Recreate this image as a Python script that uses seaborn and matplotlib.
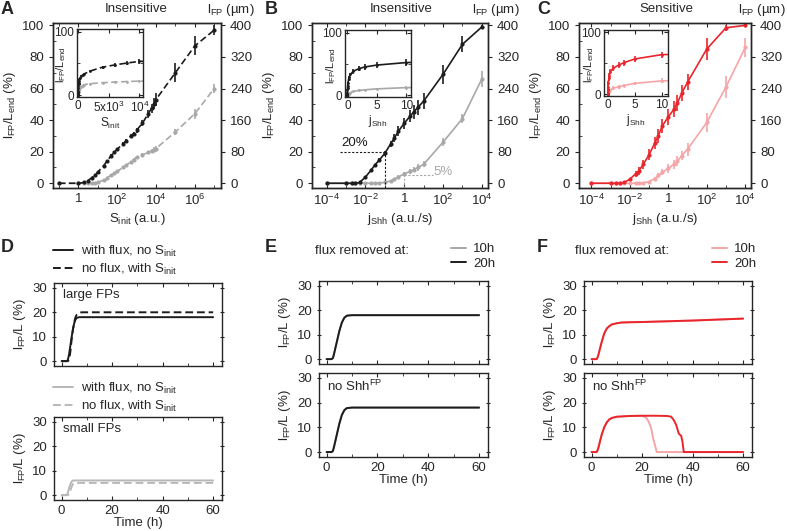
import numpy as np
import matplotlib
matplotlib.use('Agg')
import matplotlib.pyplot as plt
import seaborn as sns
from matplotlib.ticker import FixedLocator, NullFormatter

# ----- Data -----

# A: floor plate size vs initial Shh (S_init)
s_init = [0.1, 1, 2, 3, 5, 7, 10, 20, 30, 50, 70, 100, 200, 300, 500, 700,
          1000, 2000, 4000, 6000, 8000, 1e4, 1e5, 1e6, 1e7]
a_black = [0, 0, 0.5, 1.5, 3.5, 5, 7, 11, 14, 17.5, 19.5, 21.5, 25, 27, 30, 31.5,
           33.5, 38, 44, 47.5, 50.5, 53, 70, 87, 97]
a_black_err = [0.5, 0.5, 0.5, 0.5, 0.5, 0.5, 0.8, 0.8, 1, 1, 1, 1, 1, 1, 1.2, 1.2,
               1.5, 2, 2.5, 3, 3.5, 4, 6, 6, 3]
a_gray = [0, 0, 0, 0, 0, 0.2, 0.5, 2, 3.5, 5, 6.5, 7.5, 10, 11.5, 13.5, 15,
          16.5, 18, 19.5, 20.5, 21.3, 22, 32.5, 44, 60]
a_gray_err = [0.3, 0.3, 0.3, 0.3, 0.3, 0.3, 0.3, 0.5, 0.5, 0.5, 0.5, 0.5, 0.8, 0.8, 0.8, 0.8,
              1, 1, 1.2, 1.2, 1.5, 1.5, 2, 3, 3]

# B, C: floor plate size vs Shh flux (j_Shh)
j_shh = [1e-4, 1e-3, 2e-3, 3e-3, 5e-3, 0.01, 0.02, 0.03, 0.05, 0.1, 0.2, 0.3, 0.5,
         1, 2, 3, 5, 10, 100, 1000, 1e4]
b_black = [0, 0, 0, 0, 0.5, 4, 8.5, 11.5, 14.5, 19, 25, 28.5, 33,
           38, 42.5, 45, 48, 52, 69, 88, 99]
b_black_err = [0.3, 0.3, 0.3, 0.3, 0.3, 0.5, 0.8, 1, 1.2, 1.5, 2, 2.5, 3,
               3.5, 4, 4.5, 4.5, 5, 6, 5, 1]
b_gray = [0, 0, 0, 0, 0, 0, 0, 0, 0.2, 0.5, 1.5, 2.5, 4,
          6, 7.5, 8.5, 10, 12, 26, 41, 66]
b_gray_err = [0.2, 0.2, 0.2, 0.2, 0.2, 0.2, 0.2, 0.2, 0.3, 0.5, 0.8, 1, 1,
              1.2, 1.5, 1.5, 2, 2, 2.5, 3, 5]
c_red = [0, 0, 0, 0, 0.5, 2.5, 6, 8, 12, 18, 25.5, 30, 36.5,
         42, 47, 51, 57, 64, 85, 98.5, 100]
c_red_err = [0.3, 0.3, 0.3, 0.3, 0.5, 1, 2, 2.5, 3, 3.5, 4, 4.5, 4.5,
             5, 5, 5, 5, 5, 7, 2, 1]
c_pink = [0, 0, 0, 0, 0, 0, 0, 0, 0.3, 1, 3, 5, 7,
          9.5, 12, 14, 17.5, 21.5, 38.5, 61, 86]
c_pink_err = [0.2, 0.2, 0.2, 0.2, 0.2, 0.2, 0.2, 0.2, 0.3, 0.5, 1, 1.5, 2,
              3, 3, 3, 3, 4, 6, 7, 6]

# D: time courses, large and small floor plates
t_d = [0, 1, 2, 2.5, 3, 3.5, 4, 4.5, 5, 5.5, 6, 7, 8, 10, 20, 40, 60]
d_large_flux = [0, 0, 0, 0.5, 3, 6.5, 10, 13, 15.5, 17, 17.7, 18, 18, 18, 18, 18, 18]
d_large_noflux = [0, 0, 0, 0, 0.5, 4, 9, 13, 16, 18, 19, 19.8, 20, 20, 20, 20, 20]
d_small_flux = [0, 0, 0, 1, 3, 4.5, 5.5, 6, 6, 6, 6, 6, 6, 6, 6, 6, 6]
d_small_noflux = [0, 0, 0, 0, 0.5, 2, 3.5, 4.5, 5, 5, 5, 5, 5, 5, 5, 5, 5]

# E: insensitive, flux removed at 10h / 20h
t_e = [0, 1, 2, 2.5, 3, 4, 5, 6, 7, 8, 10, 20, 40, 60]
e_top = [0, 0, 0, 0.5, 2.5, 7, 11.5, 15, 17, 17.8, 18, 18, 18, 18]
e_bottom = [0, 0, 0, 0.5, 2.5, 7, 11.5, 15, 17, 17.8, 18, 18, 18, 18]

# F: sensitive, flux removed at 10h / 20h
t_f = [0, 1, 2, 2.5, 3, 4, 5, 6, 7, 8, 10, 12, 15, 20, 30, 40, 50, 60]
f_top = [0, 0, 0, 1, 3, 7, 10.5, 12.5, 13.5, 14.2, 14.7, 15, 15.1, 15.2, 15.5, 15.8, 16.2, 16.6]
t_f20 = [0, 1, 2, 2.5, 3, 4, 5, 6, 7, 8, 10, 15, 20, 25, 30, 31.5, 32.5, 33.5,
         34.5, 35.5, 36, 36.5, 40, 50, 60]
f_bottom_20 = [0, 0, 0, 1, 3, 7, 10, 12, 13.2, 13.8, 14.3, 14.6, 14.7, 14.7, 14.6, 14.3, 13, 11,
               7.5, 6.5, 4, 0, 0, 0, 0]
t_f10 = [0, 1, 2, 2.5, 3, 4, 5, 6, 7, 8, 10, 15, 20, 21.5, 22.5, 23.5, 24.5, 25.3, 25.8,
         30, 40, 60]
f_bottom_10 = [0, 0, 0, 1, 3, 7, 10, 12, 13.2, 13.8, 14.3, 14.6, 14.7, 14, 12.5, 10, 5, 2, 0,
               0, 0, 0]

BLACK = '#1c1c1c'
GRAY = '#a8a8a8'
RED = '#e8262c'
PINK = '#f5a5a8'

# ----- Style -----
sns.set_style('ticks')
plt.rcParams['font.family'] = ['Liberation Sans', 'DejaVu Sans']
plt.rcParams['mathtext.fontset'] = 'custom'
plt.rcParams['mathtext.rm'] = 'Liberation Sans'
plt.rcParams['mathtext.it'] = 'Liberation Sans:italic'
plt.rcParams['mathtext.default'] = 'regular'
plt.rcParams['font.size'] = 9.5
plt.rcParams['axes.linewidth'] = 1.0
plt.rcParams['xtick.major.size'] = 3
plt.rcParams['ytick.major.size'] = 3
plt.rcParams['xtick.minor.size'] = 2
plt.rcParams['ytick.minor.size'] = 2

W, H = 787, 531
fig = plt.figure(figsize=(W / 100, H / 100), dpi=100)


def box(l, t, r, b):
    return [l / W, 1 - b / H, (r - l) / W, (b - t) / H]


def draw_series(ax, x, y, err, color, ls, ms):
    sns.lineplot(x=x, y=y, ax=ax, color=color, linestyle=ls, linewidth=1.2,
                 marker='o', markersize=ms, markeredgewidth=0, sort=False,
                 errorbar=None)
    ax.errorbar(x, y, yerr=err, fmt='none', ecolor=color, elinewidth=1.2, capsize=0)


def dose_panel(rect, x, series, xlim, majors, major_labels, minors, xlabel, title,
               title_x, lfp_x, inset_rect, inset_xlim, inset_ticks, inset_labels,
               inset_xlabel, ylab_x):
    ax = fig.add_axes(box(*rect))
    for y, err, color, ls in series:
        draw_series(ax, x, y, err, color, ls, 3)
    ax.set_xscale('log')
    ax.set_xlim(*xlim)
    ax.set_ylim(-3, 101.5)
    ax.set_xticks(majors)
    ax.set_xticklabels(major_labels)
    ax.xaxis.set_minor_locator(FixedLocator(minors))
    ax.xaxis.set_minor_formatter(NullFormatter())
    ax.set_yticks([0, 20, 40, 60, 80, 100])
    ax.set_yticks([10, 30, 50, 70, 90], minor=True)
    ax.tick_params(axis='x', which='both', direction='in', top=True)
    ax.tick_params(axis='y', which='major', direction='out')
    ax.tick_params(axis='y', which='minor', direction='in')
    ax.set_xlabel(xlabel, labelpad=2)
    ax.set_ylabel(r'$l_{FP}/L_{end}$ (%)', labelpad=3)
    ax2 = ax.twinx()
    ax2.set_ylim(-12, 406)
    ax2.set_yticks([0, 80, 160, 240, 320, 400])
    ax2.tick_params(axis='y', direction='out')
    fig.text(title_x / W, 1 - 9 / H, title, ha='center', va='center')
    fig.text(lfp_x / W, 1 - 10 / H, r'$l_{FP}$ (µm)', ha='center', va='center')

    ins = fig.add_axes(box(*inset_rect))
    ins.set_facecolor('white')
    for y, err, color, ls in series:
        draw_series(ins, x, y, err, color, ls, 2)
    ins.set_xlim(*inset_xlim)
    ins.set_ylim(-3, 104)
    ins.set_xticks(inset_ticks)
    ins.set_xticklabels(inset_labels)
    ins.set_yticks([0, 100])
    ins.set_yticks([50], minor=True)
    ins.tick_params(which='both', direction='in', top=True, right=True, labelsize=8.5, pad=2)
    ins.set_xlabel(inset_xlabel, fontsize=8.5, labelpad=1)
    ins.set_ylabel(r'$l_{FP}/L_{end}$', fontsize=8)
    ins.yaxis.set_label_coords(ylab_x, 0.47)
    return ax


# Panel A
dose_panel((53, 23, 221, 188), s_init,
           [(a_gray, a_gray_err, GRAY, (0, (4, 2))), (a_black, a_black_err, BLACK, (0, (4, 2)))],
           (10 ** -1.3, 10 ** 7.35), [1, 1e2, 1e4, 1e6],
           ['1', '$10^{2}$', '$10^{4}$', '$10^{6}$'], [0.1, 10, 1e3, 1e5, 1e7],
           r'$S_{init}$ (a.u.)', 'Insensitive', 136, 231,
           (77, 29, 143, 97), (-200, 10600), [0, 5000, 10000],
           ['0', '5x10$^{3}$', '10$^{4}$'], r'$S_{init}$', -0.13)

# Panel B
axB = dose_panel((312, 23, 488, 188), j_shh,
                 [(b_gray, b_gray_err, GRAY, '-'), (b_black, b_black_err, BLACK, '-')],
                 (10 ** -4.76, 10 ** 4.32), [1e-4, 1e-2, 1, 1e2, 1e4],
                 ['$10^{-4}$', '$10^{-2}$', '1', '$10^{2}$', '$10^{4}$'], [1e-3, 0.1, 10, 1e3],
                 r'$j_{Shh}$ (a.u./s)', 'Insensitive', 401, 496,
                 (345, 30, 411, 97), (-0.4, 10.8), [0, 5, 10], ['0', '5', '10'],
                 r'$j_{Shh}$', -0.11)
axB.plot([10 ** -3.3, 0.1], [20, 20], color=BLACK, lw=0.8, ls=(0, (2, 1.5)))
axB.plot([0.1, 0.1], [-3, 20], color=BLACK, lw=0.8, ls=(0, (2, 1.5)))
axB.text(10 ** -3.25, 21.5, '20%', color=BLACK, ha='left', va='bottom')
axB.plot([1, 10 ** 1.5], [5.5, 5.5], color=GRAY, lw=0.8, ls=(0, (2, 1.5)))
axB.plot([1, 1], [-3, 5.5], color=GRAY, lw=0.8, ls=(0, (2, 1.5)))
axB.text(10 ** 1.52, 7, '5%', color=GRAY, ha='left', va='center')

# Panel C
dose_panel((579, 23, 751, 188), j_shh,
           [(c_pink, c_pink_err, PINK, '-'), (c_red, c_red_err, RED, '-')],
           (10 ** -4.64, 10 ** 4.3), [1e-4, 1e-2, 1, 1e2, 1e4],
           ['$10^{-4}$', '$10^{-2}$', '1', '$10^{2}$', '$10^{4}$'], [1e-3, 0.1, 10, 1e3],
           r'$j_{Shh}$ (a.u./s)', 'Sensitive', 666, 762,
           (604, 30, 668, 96), (-0.7, 11.2), [0, 5, 10], ['0', '5', '10'],
           r'$j_{Shh}$', -0.12)


# ----- Time course panels -----
def time_axes(rect, xlabels):
    ax = fig.add_axes(box(*rect))
    ax.set_xlim(-3, 63.5)
    ax.set_ylim(-2, 32)
    ax.set_xticks([0, 20, 40, 60])
    ax.set_xticks([10, 30, 50], minor=True)
    ax.set_yticks([0, 10, 20, 30])
    ax.tick_params(axis='x', which='both', direction='in', top=True)
    ax.tick_params(axis='y', direction='inout', right=True)
    ax.set_ylabel(r'$l_{FP}$/L (%)', labelpad=3)
    if xlabels:
        ax.set_xlabel('Time (h)', labelpad=0)
    else:
        ax.tick_params(axis='x', labelbottom=False)
    return ax


def tline(ax, t, y, color, ls='-', label=None):
    sns.lineplot(x=t, y=y, ax=ax, color=color, linestyle=ls, linewidth=1.4,
                 sort=False, errorbar=None, label=label)
    if ax.get_legend() is not None:
        ax.get_legend().remove()


# Panel D
d1 = time_axes((54, 283, 222, 366), False)
tline(d1, t_d, d_large_flux, BLACK, '-', r'with flux, no $S_{init}$')
tline(d1, t_d, d_large_noflux, BLACK, (0, (4, 2)), r'no flux, with $S_{init}$')
d1.text(0.055, 0.855, 'large FPs', transform=d1.transAxes, ha='left', va='center')
h, l = d1.get_legend_handles_labels()
fig.legend(h, l, loc='upper left', bbox_to_anchor=(53 / W, 1 - 244 / H), frameon=False,
           borderpad=0, borderaxespad=0, handlelength=1.5, handletextpad=0.6,
           labelspacing=0.2)

d2 = time_axes((54, 417, 222, 500), True)
tline(d2, t_d, d_small_flux, '#b8b8b8', '-', r'with flux, no $S_{init}$')
tline(d2, t_d, d_small_noflux, '#b8b8b8', (0, (4, 2)), r'no flux, with $S_{init}$')
d2.text(0.055, 0.855, 'small FPs', transform=d2.transAxes, ha='left', va='center')
h, l = d2.get_legend_handles_labels()
fig.legend(h, l, loc='upper left', bbox_to_anchor=(53 / W, 1 - 381 / H), frameon=False,
           borderpad=0, borderaxespad=0, handlelength=1.5, handletextpad=0.6,
           labelspacing=0.2)

# Panel E
e1 = time_axes((319, 281, 488, 364), False)
tline(e1, t_e, e_top, GRAY, '-', '10h')
tline(e1, t_e, e_top, BLACK, '-', '20h')
e2 = time_axes((319, 373, 488, 457), True)
tline(e2, t_e, e_bottom, GRAY)
tline(e2, t_e, e_bottom, BLACK)
e2.text(0.05, 0.84, r'no Shh$^{FP}$', transform=e2.transAxes, ha='left', va='center')
fig.text(315 / W, 1 - 251 / H, 'flux removed at:', ha='left', va='center')
h, l = e1.get_legend_handles_labels()
fig.legend(h, l, loc='upper left', bbox_to_anchor=(451 / W, 1 - 243 / H), frameon=False,
           borderpad=0, borderaxespad=0, handlelength=1.1, handletextpad=0.6,
           labelspacing=0.2)

# Panel F
f1 = time_axes((584, 281, 752, 364), False)
tline(f1, t_f, f_top, PINK, '-', '10h')
tline(f1, t_f, f_top, RED, '-', '20h')
f2 = time_axes((584, 373, 752, 457), True)
tline(f2, t_f10, f_bottom_10, PINK)
tline(f2, t_f20, f_bottom_20, RED)
f2.text(0.05, 0.84, r'no Shh$^{FP}$', transform=f2.transAxes, ha='left', va='center')
fig.text(575 / W, 1 - 251 / H, 'flux removed at:', ha='left', va='center')
h, l = f1.get_legend_handles_labels()
fig.legend(h, l, loc='upper left', bbox_to_anchor=(712 / W, 1 - 243 / H), frameon=False,
           borderpad=0, borderaxespad=0, handlelength=1.1, handletextpad=0.6,
           labelspacing=0.2)

# Panel letters
for letter, x, y in [('A', 1, 9), ('B', 265, 9), ('C', 537, 9),
                     ('D', 1, 247), ('E', 265, 247), ('F', 537, 247)]:
    fig.text(x / W, 1 - y / H, letter, fontsize=13, fontweight='bold', ha='left', va='center')

fig.savefig('out.png', dpi=100)
